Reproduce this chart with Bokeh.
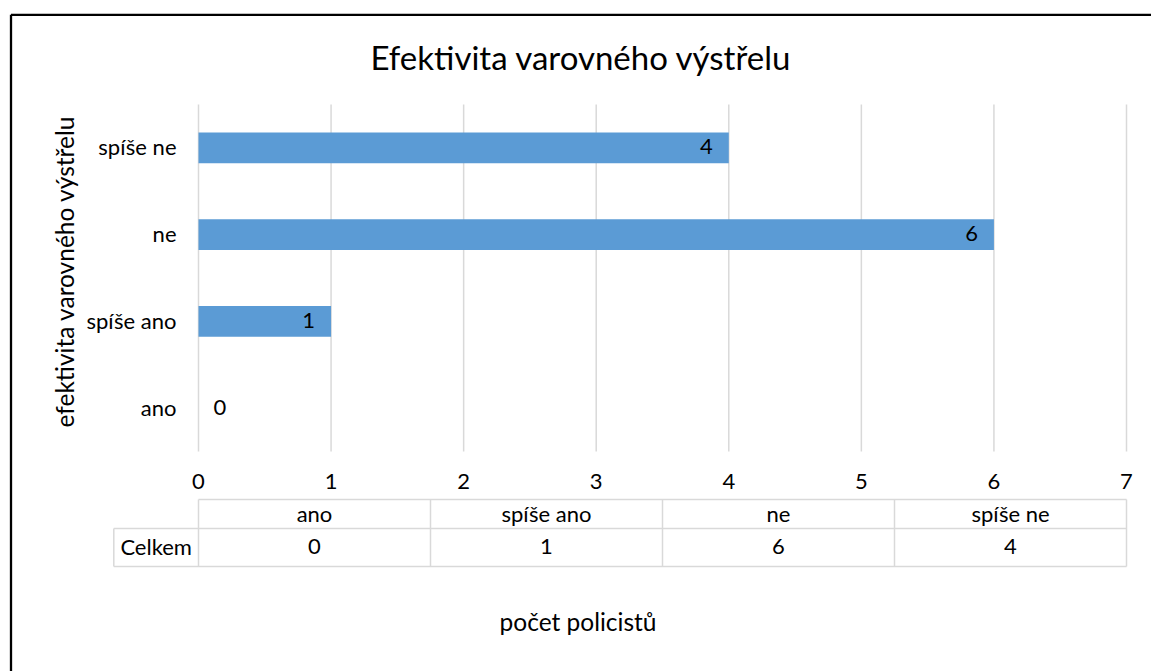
from math import pi
from bokeh.plotting import figure
from bokeh.models import Range1d, ColumnDataSource
from bokeh.core.properties import value
from bokeh.embed import file_html
from bokeh.resources import INLINE

# ---- data ----
categories = ["ano", "spíše ano", "ne", "spíše ne"]
counts = [0, 1, 6, 4]
x_ticks = [0, 1, 2, 3, 4, 5, 6, 7]
title_text = "Efektivita varovného výstřelu"
y_title = "efektivita varovného výstřelu"
x_title = "počet policistů"
row_label = "Celkem"

# ---- style ----
FONT = "Lato"
TEXT = "#000000"
GRID = "#D9D9D9"
BAR = "#5B9BD5"
FS = "22px"
FS_AXT = "24.5px"
FS_TITLE = "33px"

# ---- layout (pixels on the canvas) ----
W, H = 1151, 671
PL, PR, PT, PB = 198, 1126, 104, 451   # plot area edges
NCAT = len(categories)
XMIN, XMAX = x_ticks[0], x_ticks[-1]
ux = (XMAX - XMIN) / (PR - PL)
uy = NCAT / (PB - PT)

p = figure(width=W, height=H, output_backend="svg", toolbar_location=None,
           x_range=Range1d(XMIN - PL * ux, XMAX + (W - PR) * ux),
           y_range=Range1d(-(H - PB) * uy, NCAT + PT * uy),
           x_axis_location=None, y_axis_location=None,
           min_border=0, min_border_left=0, min_border_right=0,
           min_border_top=0, min_border_bottom=0)
p.grid.visible = False
p.outline_line_color = None
p.background_fill_color = "white"
p.border_fill_color = "white"

def px(x):
    return XMIN + (x - PL) * ux
def py(y):
    return (PB - y) * uy

cat_pos = [i + 0.5 for i in range(NCAT)]

def txt(x, y, t, align="center", size=FS, angle=0.0):
    p.text(x=x, y=y, text=t, text_align=align, text_baseline="middle",
           text_font=value(FONT), text_font_size=size, text_color=TEXT,
           angle=angle)

# vertical gridlines over the plot area
p.segment(x0=x_ticks, y0=[0] * len(x_ticks), x1=x_ticks, y1=[NCAT] * len(x_ticks),
          line_color=GRID, line_width=1.5)

# bars
p.hbar(y=cat_pos, left=0, right=counts, height=0.355, fill_color=BAR, line_color=None)

# data labels (inside end; zero value sits right of the base)
src = ColumnDataSource(dict(
    x=counts, y=cat_pos, t=[str(v) for v in counts],
    align=["left" if v == 0 else "right" for v in counts],
    xoff=[15 if v == 0 else -16 for v in counts]))
p.text(x="x", y="y", text="t", text_align="align", x_offset="xoff",
       y_offset=-1, text_baseline="middle", text_font=value(FONT),
       text_font_size=FS, text_color=TEXT, source=src)

# category labels (y axis)
txt([px(176)] * NCAT, [c + py(PB - 1) for c in cat_pos], categories, align="right")

# x tick labels
txt(x_ticks, [py(481)] * len(x_ticks), [str(t) for t in x_ticks])

# data table
col_w = (XMAX - XMIN) / NCAT
col_edges = [XMIN + i * col_w for i in range(NCAT + 1)]
col_mid = [XMIN + (i + 0.5) * col_w for i in range(NCAT)]
y_top, y_mid, y_bot = py(499), py(528), py(566)
x_left = px(113.3)
x0s = [col_edges[0], x_left, x_left, x_left] + col_edges
y0s = [y_top, y_mid, y_bot, y_mid] + [y_top] * len(col_edges)
x1s = [col_edges[-1], col_edges[-1], col_edges[-1], x_left] + col_edges
y1s = [y_top, y_mid, y_bot, y_bot] + [y_bot] * len(col_edges)
p.segment(x0=x0s, y0=y0s, x1=x1s, y1=y1s, line_color=GRID, line_width=1.5)
txt(col_mid, [py(513)] * NCAT, categories)
txt(col_mid, [py(546)] * NCAT, [str(v) for v in counts])
txt([(x_left + col_edges[0]) / 2], [py(546)], [row_label])

# titles
txt([px(580.7)], [py(56)], [title_text], size=FS_TITLE)
txt([px(64)], [py(271)], [y_title], size=FS_AXT, angle=pi / 2)
txt([px(577.5)], [py(621)], [x_title], size=FS_AXT)

# chart border (continues past the window on the right and bottom)
bx, by = px(10.5), py(14.3)
p.segment(x0=[bx, bx], y0=[by, by], x1=[bx, px(W + 50)], y1=[py(H + 50), by],
          line_color="#000000", line_width=2.3)

open("out.html", "w").write(file_html(p, INLINE))
